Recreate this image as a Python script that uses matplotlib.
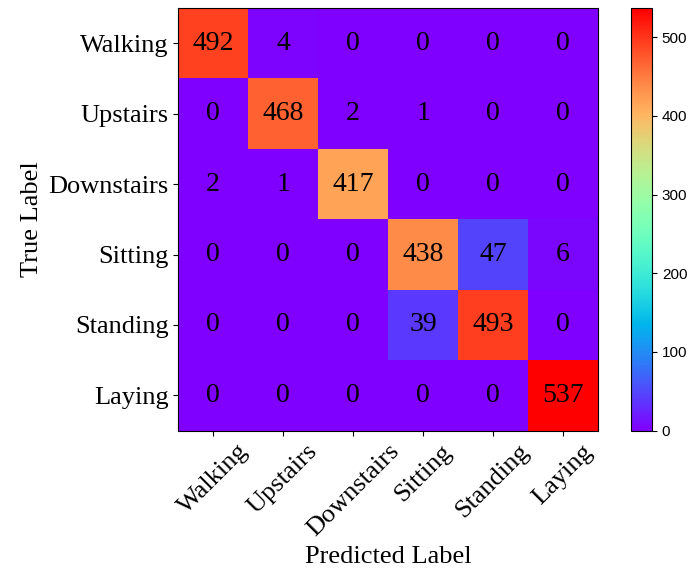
import matplotlib
matplotlib.use("Agg")
import matplotlib.pyplot as plt
import numpy as np

labels = ["Walking", "Upstairs", "Downstairs", "Sitting", "Standing", "Laying"]
cm = np.array([
    [492, 4, 0, 0, 0, 0],
    [0, 468, 2, 1, 0, 0],
    [2, 1, 417, 0, 0, 0],
    [0, 0, 0, 438, 47, 6],
    [0, 0, 0, 39, 493, 0],
    [0, 0, 0, 0, 0, 537],
])
cbar_ticks = [0, 100, 200, 300, 400, 500]

serif = "Liberation Serif"
fig = plt.figure(figsize=(6.93, 5.78), dpi=100)
ax = fig.add_axes([0.257, 0.255, 0.606, 0.731])
cax = fig.add_axes([0.910, 0.255, 0.031, 0.731])

im = ax.imshow(cm, cmap="rainbow", vmin=0, vmax=cm.max(), aspect="auto")
for i in range(cm.shape[0]):
    for j in range(cm.shape[1]):
        ax.text(j, i, str(cm[i, j]), ha="center", va="center", fontsize=20,
                family=serif, color="black")

ax.set_xticks(range(len(labels)))
ax.set_yticks(range(len(labels)))
ax.set_xticklabels(labels, rotation=45, fontsize=19, family=serif)
ax.set_yticklabels(labels, fontsize=19, family=serif)
ax.set_xlabel("Predicted Label", fontsize=19, family=serif)
ax.set_ylabel("True Label", fontsize=19, family=serif)

cb = fig.colorbar(im, cax=cax, ticks=cbar_ticks)
cb.ax.tick_params(labelsize=11)
for t in cb.ax.get_yticklabels():
    t.set_family("Liberation Sans")

fig.savefig("out.png", dpi=100)
